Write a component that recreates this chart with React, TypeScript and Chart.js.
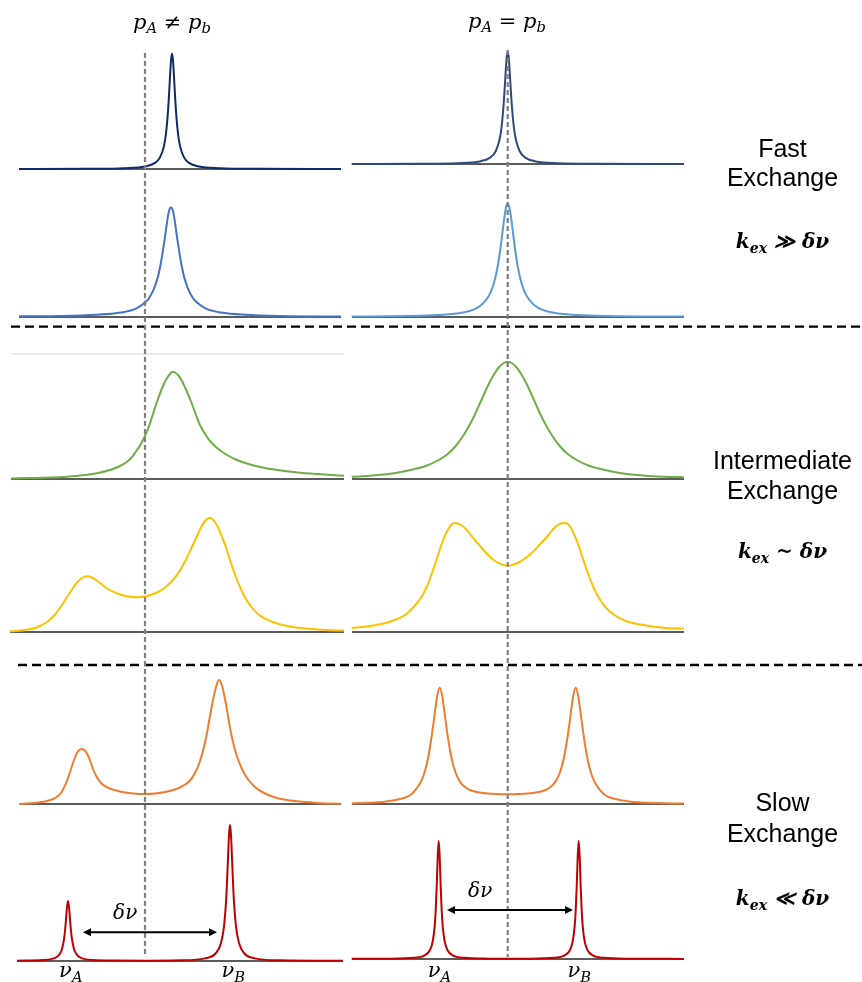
import React, { useEffect, useRef } from 'react';
import { Chart, registerables } from 'chart.js';

Chart.register(...registerables);

// ---------------- DATA (frequency offset from the mean shift, a.u. ; intensity, a.u.) ----------------
// Fast exchange, upper row
const FAST1_UNEQ_FREQ = [-126, -60, -20, 0, 10, 15, 19, 21, 23, 24, 25, 26, 27, 28, 29, 30, 31, 33, 35, 39, 44, 54, 74, 114, 196];
const FAST1_UNEQ_INT = [0.1, 0.24, 0.83, 2.5, 6.1, 11.6, 23.1, 35.5, 57.8, 73.9, 92.4, 108.7, 115.5, 108.7, 92.4, 73.9, 57.8, 35.5, 23.1, 11.6, 6.1, 2.5, 0.83, 0.24, 0.1];
const FAST1_EQ_FREQ = [-156, -90, -50, -28, -18, -12, -8, -6, -4, -3, -2, -1, 0, 1, 2, 3, 4, 6, 8, 12, 18, 28, 50, 90, 176];
const FAST1_EQ_INT = [0.09, 0.26, 0.83, 2.6, 6.1, 12.8, 25.2, 38.2, 60.4, 75.7, 92.6, 106.8, 112.6, 106.8, 92.6, 75.7, 60.4, 38.2, 25.2, 12.8, 6.1, 2.6, 0.83, 0.26, 0.07];

// Fast exchange, lower row
const FAST2_UNEQ_FREQ = [-126, -84, -49, -24, -9, 0, 4, 9, 13, 16, 18, 20, 22, 24, 26, 28, 30, 32, 34, 36, 39, 43, 48, 52, 61, 76, 101, 136, 196];
const FAST2_UNEQ_INT = [0.7, 1.0, 2.2, 4.5, 8.3, 14.5, 18.8, 28.4, 40.6, 54.8, 66.8, 80, 94.5, 106, 109.6, 106, 94.5, 80, 66.8, 54.8, 40.6, 28.4, 18.8, 14.5, 8.3, 4.5, 2.2, 1.0, 0.5];
const FAST2_EQ_FREQ = [-156, -100, -70, -45, -30, -22, -17, -13, -10, -8, -6, -4, -2, 0, 2, 4, 6, 8, 10, 13, 17, 22, 30, 45, 70, 100, 176];
const FAST2_EQ_INT = [0.5, 1.0, 2.0, 4.4, 9.3, 16.6, 24.9, 36.8, 50.8, 63.3, 78.5, 94.7, 108, 113.4, 108, 94.7, 78.5, 63.3, 50.8, 36.8, 24.9, 16.6, 9.3, 4.4, 2.0, 1.0, 0.4];

// Intermediate exchange, upper row
const INTER1_UNEQ_FREQ = [-134, -115, -95, -78, -62, -48, -35, -26, -18, -13, -8, -4, -1, 3, 8, 13, 18, 22, 25, 27.3, 30, 33, 37, 42, 47, 51, 55, 60, 65, 72, 82, 92, 105, 120, 138, 155, 172, 199];
const INTER1_UNEQ_INT = [0.5, 0.9, 1.4, 2.3, 3.7, 5.8, 9, 12.5, 17.3, 22, 29, 35, 41, 50, 65, 80, 93, 101, 105, 107.3, 106.5, 104, 98, 87, 75, 64, 54, 45, 38, 31, 24, 19, 14.5, 11, 8.2, 6.3, 5, 3.2];
const INTER1_EQ_FREQ = [-156, -145, -129, -112, -96, -80, -69, -60, -52, -45, -39, -34, -29, -24, -19, -14, -9, -4, 0, 4, 9, 14, 19, 24, 29, 34, 39, 45, 52, 60, 69, 80, 96, 112, 129, 145, 156, 176];
const INTER1_EQ_INT = [2.2, 2.7, 3.9, 6, 9.3, 13.8, 19, 25, 33, 42.5, 52.5, 62, 73, 84, 95, 104, 111.5, 116, 117, 116, 111.5, 104, 95, 84, 73, 62, 52.5, 42.5, 33, 25, 19, 13.8, 9.3, 6, 3.9, 2.7, 2.2, 1.8];

// Intermediate exchange, lower row
const INTER2_UNEQ_FREQ = [-135, -122, -113, -105, -97, -90, -83, -78, -73, -68, -63, -58, -53, -47, -40, -32, -23, -15, -8, 0, 7, 13, 20, 27, 34, 40, 46, 52, 56, 60, 64, 67, 70, 74, 80, 85, 90, 95, 100, 106, 113, 122, 133, 146, 160, 180, 199];
const INTER2_UNEQ_INT = [0.7, 1.8, 3.3, 6, 10.7, 17.5, 27, 35, 42.5, 49.5, 54, 55.7, 54.5, 50.5, 45, 40.3, 37, 35.3, 34.8, 35.6, 37.5, 40, 44.5, 51, 60, 70.5, 83, 96, 104.5, 111, 114, 113.2, 110, 102.5, 87.5, 72, 57.5, 45, 34.5, 25.5, 18, 12.3, 8.2, 5.3, 3.4, 2.1, 1.4];
const INTER2_EQ_FREQ = [-156, -142, -129, -115, -102, -94, -86, -81, -76, -71, -66, -62, -59, -56, -53, -50, -46, -41, -36, -29, -22, -16, -10, -5, 0, 5, 11, 18, 26, 33, 40, 46, 51, 54, 57, 60, 63, 66, 70, 75, 80, 85, 90, 98, 106, 118, 133, 146, 158, 176];
const INTER2_EQ_INT = [4, 5.4, 7.4, 11.3, 17.5, 25, 35.5, 45, 58, 73, 88, 98, 103.5, 107.5, 109, 108.5, 106.5, 102, 96, 87.5, 79.5, 73.5, 69.5, 67.3, 66.3, 67.2, 69.5, 74, 81, 88.5, 96, 103.5, 107.5, 108.7, 109, 108, 104.5, 98.5, 89, 74, 59.5, 46.5, 36, 24.5, 17.5, 11, 7.4, 5.2, 4.1, 3.4];

// Slow exchange, upper row
const SLOW1_UNEQ_FREQ = [-126, -115, -105, -98, -92, -87, -83, -80, -77, -74, -71, -68, -65, -63, -61, -58, -55, -52, -48, -44, -40, -34, -28, -20, -12, 0, 10, 20, 30, 35, 40, 45, 50, 55, 59, 62, 65, 68, 71, 74, 77, 80, 83, 86, 89, 92, 97, 102, 110, 118, 130, 142, 157, 172, 196];
const SLOW1_UNEQ_INT = [0, 0.7, 1.7, 3, 5, 8, 12.5, 18.5, 26, 35, 44, 51, 54.5, 55, 54.3, 50.5, 43.5, 35, 26.5, 21, 17.8, 15, 13.2, 11.5, 10.5, 10, 10.5, 12, 14.5, 16.5, 19.5, 23.5, 31, 43, 57, 71, 88, 104, 117, 124.3, 118.5, 105, 88, 71, 58, 47.5, 35, 26, 17, 11.5, 6.5, 4, 2.2, 1.1, 0.3];
const SLOW1_EQ_FREQ = [-156, -130, -120, -110, -103, -98, -94, -90, -87, -84, -80, -76, -73, -70.5, -68, -65.5, -63, -60, -56, -52, -49, -46, -42, -38, -32, -25, -12, 0, 12, 25, 32, 38, 42, 46, 49, 52, 56, 60, 63, 65.5, 68, 70.5, 73, 76, 80, 84, 87, 90, 94, 98, 103, 110, 120, 130, 150, 176];
const SLOW1_EQ_INT = [0.7, 1.7, 2.8, 4.5, 6.2, 8.5, 12, 17, 22, 29, 44, 68, 90, 108, 116.3, 108, 90, 68, 45, 31, 24.5, 20, 16.5, 14, 12.3, 11, 10, 9.7, 10, 11, 12.3, 14, 16.5, 20, 24.5, 31, 45, 68, 90, 108, 116.3, 108, 90, 68, 44, 29, 22, 17, 12, 8.5, 6.2, 4.5, 2.8, 1.7, 0.9, 0.5];

// Slow exchange, lower row
const SLOW2_UNEQ_FREQ = [-128, -102, -91, -86, -83, -81, -80, -79, -78, -77, -76, -75, -74, -73, -71, -68, -63, -52, -27, 0, 35, 60, 71, 76, 79, 81, 82, 83, 84, 85, 86, 87, 88, 89, 91, 94, 99, 110, 135, 198];
const SLOW2_UNEQ_INT = [0.3, 0.9, 2.6, 6, 12, 21.6, 30, 41.5, 54, 60, 54, 41.5, 30, 21.6, 12, 6.1, 2.7, 1.0, 0.45, 0.32, 0.66, 2.6, 8.0, 17.9, 34.6, 59.1, 78.6, 102.8, 126, 136.3, 126, 102.8, 78.6, 59.1, 34.6, 17.9, 8.0, 2.6, 0.66, 0.15];
const SLOW2_EQ_FREQ = [-156, -119, -94, -83, -78, -75, -73, -72, -71, -70, -69, -68, -67, -66, -65, -63, -60, -55, -44, -19, 0, 21, 46, 57, 62, 65, 67, 68, 69, 70, 71, 72, 73, 74, 75, 77, 80, 85, 96, 121, 176];
const SLOW2_EQ_INT = [0.15, 0.3, 1.17, 3.65, 8.5, 17.5, 33.2, 48.5, 72.1, 102, 118.3, 102, 72.1, 48.5, 33.2, 17.5, 8.5, 3.65, 1.2, 0.37, 0.3, 0.35, 1.2, 3.65, 8.5, 17.5, 33.2, 48.5, 72.1, 102, 118.3, 102, 72.1, 48.5, 33.2, 17.5, 8.5, 3.65, 1.17, 0.3, 0.1];

// Text
const COLUMN_TITLES = ['≠', '='];
const REGIME_NAMES = [['Fast', 'Exchange'], ['Intermediate', 'Exchange'], ['Slow', 'Exchange']];
const REGIME_RELATIONS = ['≫', '~', '≪'];

// ---------------- LAYOUT ----------------
const COL_CENTER = [145, 507.7];
const Y_MAX = 145;
const PAD = 4;
const PAD_TOP = 4;

const PANELS = [
  { id: 'f1u', freq: FAST1_UNEQ_FREQ, int: FAST1_UNEQ_INT, col: 0, left: 19, right: 341, baseline: 169, color: '#0f2a6b' },
  { id: 'f1e', freq: FAST1_EQ_FREQ, int: FAST1_EQ_INT, col: 1, left: 352, right: 684, baseline: 164, color: '#2e4a7d' },
  { id: 'f2u', freq: FAST2_UNEQ_FREQ, int: FAST2_UNEQ_INT, col: 0, left: 19, right: 341, baseline: 317, color: '#4472c4' },
  { id: 'f2e', freq: FAST2_EQ_FREQ, int: FAST2_EQ_INT, col: 1, left: 352, right: 684, baseline: 317, color: '#5b9bd5' },
  { id: 'i1u', freq: INTER1_UNEQ_FREQ, int: INTER1_UNEQ_INT, col: 0, left: 11, right: 344, baseline: 479, color: '#70ad47' },
  { id: 'i1e', freq: INTER1_EQ_FREQ, int: INTER1_EQ_INT, col: 1, left: 352, right: 684, baseline: 479, color: '#70ad47' },
  { id: 'i2u', freq: INTER2_UNEQ_FREQ, int: INTER2_UNEQ_INT, col: 0, left: 10, right: 344, baseline: 632, color: '#ffc000' },
  { id: 'i2e', freq: INTER2_EQ_FREQ, int: INTER2_EQ_INT, col: 1, left: 352, right: 684, baseline: 632, color: '#ffc000' },
  { id: 's1u', freq: SLOW1_UNEQ_FREQ, int: SLOW1_UNEQ_INT, col: 0, left: 19, right: 341, baseline: 804, color: '#ed7d31' },
  { id: 's1e', freq: SLOW1_EQ_FREQ, int: SLOW1_EQ_INT, col: 1, left: 352, right: 684, baseline: 804, color: '#ed7d31' },
  { id: 's2u', freq: SLOW2_UNEQ_FREQ, int: SLOW2_UNEQ_INT, col: 0, left: 17, right: 343, baseline: 961, color: '#c00000' },
  { id: 's2e', freq: SLOW2_EQ_FREQ, int: SLOW2_EQ_INT, col: 1, left: 352, right: 684, baseline: 959, color: '#c00000' },
];

const MATH_FONT = '"DejaVu Serif", serif';
const SANS_FONT = '"Liberation Sans", Arial, sans-serif';
const BASE_RATIO = 0.846;

type PanelDef = typeof PANELS[number];

function SpectrumPanel({ p }: { p: PanelDef }) {
  const ref = useRef<HTMLCanvasElement | null>(null);
  const w = p.right - p.left + 2 * PAD;
  const h = Y_MAX + PAD_TOP + PAD;
  useEffect(() => {
    if (!ref.current) return;
    const center = COL_CENTER[p.col];
    const xMin = p.left - center;
    const xMax = p.right - center;
    const pts = p.freq.map((f, i) => ({ x: f, y: p.int[i] }));
    const chart = new Chart(ref.current, {
      type: 'line',
      data: {
        datasets: [
          {
            data: pts,
            borderColor: p.color,
            borderWidth: 2,
            pointRadius: 0,
            cubicInterpolationMode: 'monotone',
            fill: false,
            clip: false,
            order: 0,
          } as any,
          {
            data: [{ x: xMin, y: 0 }, { x: xMax, y: 0 }],
            borderColor: '#262626',
            borderWidth: 1.3,
            pointRadius: 0,
            fill: false,
            clip: false,
            order: 1,
          } as any,
        ],
      },
      options: {
        animation: false,
        responsive: false,
        events: [],
        layout: { padding: { left: PAD, right: PAD, top: PAD_TOP, bottom: PAD } },
        scales: {
          x: { type: 'linear', display: false, min: xMin, max: xMax },
          y: { type: 'linear', display: false, min: 0, max: Y_MAX },
        },
        plugins: { legend: { display: false }, tooltip: { enabled: false } },
      } as any,
    });
    return () => chart.destroy();
  }, [p]);
  return (
    <canvas
      ref={ref}
      width={w}
      height={h}
      style={{ position: 'absolute', left: p.left - PAD, top: p.baseline - Y_MAX - PAD_TOP, width: w, height: h }}
    />
  );
}

const Sub = ({ children }: { children: React.ReactNode }) => (
  <span style={{ fontSize: '0.7em', position: 'relative', top: '0.32em' }}>{children}</span>
);

function Label({ cx, baseline, fs, font, italic, bold, children }: any) {
  return (
    <div
      style={{
        position: 'absolute',
        left: cx,
        top: baseline - BASE_RATIO * fs,
        transform: 'translateX(-50%)',
        whiteSpace: 'nowrap',
        fontFamily: font,
        fontStyle: italic ? 'italic' : 'normal',
        fontWeight: bold ? 'bold' : 'normal',
        fontSize: fs,
        lineHeight: 1,
        color: '#000',
      }}
    >
      {children}
    </div>
  );
}

function Arrow({ x1, x2, y }: { x1: number; x2: number; y: number }) {
  const L = 8, H = 4;
  return (
    <g>
      <line x1={x1 + L - 1} y1={y} x2={x2 - L + 1} y2={y} stroke="#000" strokeWidth={2} />
      <polygon points={`${x1},${y} ${x1 + L},${y - H} ${x1 + L},${y + H}`} fill="#000" />
      <polygon points={`${x2},${y} ${x2 - L},${y - H} ${x2 - L},${y + H}`} fill="#000" />
    </g>
  );
}

export default function App() {
  const regimeBase = [[156.7, 185.7], [469.3, 499.3], [810.7, 842.3]];
  const relationBase = [248.3, 558.3, 905];
  return (
    <div style={{ position: 'absolute', left: 0, top: 0, width: 862, height: 982, background: '#fff', overflow: 'hidden' }}>
      {PANELS.map((p) => (
        <SpectrumPanel key={p.id} p={p} />
      ))}
      <svg width={862} height={982} style={{ position: 'absolute', left: 0, top: 0 }}>
        <line x1={11} y1={354} x2={344} y2={354} stroke="#e4e4e4" strokeWidth={1.5} />
        <line x1={11} y1={326.7} x2={862} y2={326.7} stroke="#000" strokeWidth={2.3} strokeDasharray="9 5" />
        <line x1={18} y1={665} x2={862} y2={665} stroke="#000" strokeWidth={2.3} strokeDasharray="9 5" />
        <line x1={145} y1={53} x2={145} y2={956} stroke="#7f7f7f" strokeWidth={2.2} strokeDasharray="5 3" />
        <line x1={507.7} y1={50} x2={507.7} y2={957} stroke="#7f7f7f" strokeWidth={2.2} strokeDasharray="5 3" />
        <Arrow x1={83} x2={217} y={932.3} />
        <Arrow x1={447} x2={573} y={910} />
      </svg>

      <Label cx={172} baseline={29.5} fs={21} font={MATH_FONT} italic>
        p<Sub>A</Sub> {COLUMN_TITLES[0]} p<Sub>b</Sub>
      </Label>
      <Label cx={507} baseline={28.5} fs={21} font={MATH_FONT} italic>
        p<Sub>A</Sub> {COLUMN_TITLES[1]} p<Sub>b</Sub>
      </Label>

      {REGIME_NAMES.map((lines, i) => (
        <React.Fragment key={i}>
          <Label cx={782.5} baseline={regimeBase[i][0]} fs={25} font={SANS_FONT}>{lines[0]}</Label>
          <Label cx={782.5} baseline={regimeBase[i][1]} fs={25} font={SANS_FONT}>{lines[1]}</Label>
          <Label cx={782.5} baseline={relationBase[i]} fs={20} font={MATH_FONT} italic bold>
            k<Sub>ex</Sub> {REGIME_RELATIONS[i]} δν
          </Label>
        </React.Fragment>
      ))}

      <Label cx={125.2} baseline={919.3} fs={20} font={MATH_FONT} italic>δν</Label>
      <Label cx={480.2} baseline={897.3} fs={20} font={MATH_FONT} italic>δν</Label>

      <Label cx={70.8} baseline={977.7} fs={21} font={MATH_FONT} italic>ν<Sub>A</Sub></Label>
      <Label cx={233.3} baseline={977.7} fs={21} font={MATH_FONT} italic>ν<Sub>B</Sub></Label>
      <Label cx={439.5} baseline={977.7} fs={21} font={MATH_FONT} italic>ν<Sub>A</Sub></Label>
      <Label cx={579.3} baseline={977.7} fs={21} font={MATH_FONT} italic>ν<Sub>B</Sub></Label>
    </div>
  );
}
